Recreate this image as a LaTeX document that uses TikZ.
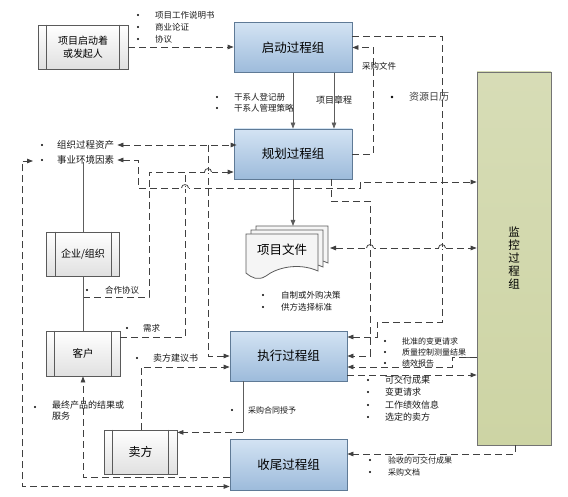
\documentclass[tikz,border=0pt]{standalone}
\usepackage{fontspec}
\setmainfont{Noto Sans CJK SC}
\usetikzlibrary{arrows.meta,calc}
\definecolor{ln}{HTML}{404040}
\definecolor{blueT}{HTML}{D3E3F3}
\definecolor{blueB}{HTML}{9DBBDB}
\definecolor{blueD}{HTML}{5F7A96}
\definecolor{greenF}{HTML}{CDD4A4}
\definecolor{grayD}{HTML}{5A5A5A}
\begin{document}
\begin{tikzpicture}[x=1pt,y=-1pt,
  >={Triangle[length=6pt,width=4.5pt]},
  dl/.style={draw=ln, line width=0.8pt, dash pattern=on 7pt off 4pt},
  sl/.style={draw=ln!85, line width=0.8pt},
  pbox/.style={draw=blueD, line width=0.8pt, top color=blueT, bottom color=blueB,
    minimum width=118pt, minimum height=50pt, inner sep=0pt, font=\fontsize{12.5}{14}\selectfont},
  gbox/.style={draw=grayD, line width=0.8pt, top color=white, bottom color=black!12,
    inner sep=0pt, align=center},
  lbl/.style={anchor=west, inner sep=0pt, font=\fontsize{8.5}{10}\selectfont, text=black!90},
  hopw/.style={fill=white},
  hop/.style={draw=ln, line width=0.8pt}
]
\useasboundingbox (0,0) rectangle (568,497);

% ---- boxes ----
\node[pbox] (start) at (293,47.5) {启动过程组};
\node[pbox] (plan) at (293,154) {规划过程组};
\node[pbox, minimum width=117pt] (exec) at (288.5,356) {执行过程组};
\node[pbox, minimum width=117pt, minimum height=51pt] (close) at (288.5,464.5) {收尾过程组};
\node[draw=black!55, line width=0.8pt, top color=greenF!80!white, bottom color=greenF,
  minimum width=74pt, minimum height=373pt, align=center,
  font=\fontsize{11.5}{13}\selectfont] (monitor) at (514,258.5) {监\\控\\过\\程\\组};

\node[gbox, minimum width=90pt, minimum height=44pt, font=\fontsize{10}{13}\selectfont] (sponsor) at (83,47) {项目启动着\\或发起人};
\node[gbox, minimum width=73pt, minimum height=44pt, font=\fontsize{10}{12}\selectfont] (ent) at (83,254) {企业/组织};
\node[gbox, minimum width=74pt, minimum height=45pt, font=\fontsize{10.5}{12}\selectfont] (cust) at (83,353.5) {客户};
\node[gbox, minimum width=73pt, minimum height=44pt, font=\fontsize{12}{14}\selectfont] (seller) at (140.5,452) {卖方};
\foreach \n in {sponsor,ent,cust,seller}{
  \draw[draw=grayD, line width=0.7pt] ([xshift=9pt]\n.north west) -- ([xshift=9pt]\n.south west);
  \draw[draw=grayD, line width=0.7pt] ([xshift=-9pt]\n.north east) -- ([xshift=-9pt]\n.south east);
}

% ---- project documents ----
\foreach \dx/\dy in {10/-8,5/-4,0/0}{
  \draw[draw=grayD, line width=0.8pt, fill=black!4]
    (246+\dx,234+\dy) -- (318+\dx,234+\dy) -- (318+\dx,271+\dy)
    .. controls (298+\dx,262+\dy) and (276+\dx,268+\dy) .. (266+\dx,276+\dy)
    .. controls (258+\dx,281+\dy) and (252+\dx,278+\dy) .. (246+\dx,273+\dy) -- cycle;
}
\node[inner sep=0pt, font=\fontsize{12.5}{14}\selectfont] (doc) at (282,250) {项目文件};
\coordinate (docT) at (293,226);
\coordinate (docR) at (330,248);

% ---- labels ----
\foreach \y/\t in {15/项目工作说明书,27/商业论证,39/协议}{
  \fill (138,\y) circle (1.2pt);
  \node[lbl] at (155,\y) {\t};
}
\foreach \y/\t in {97/干系人登记册,108/干系人管理策略}{
  \fill (217,\y) circle (1.2pt);
  \node[lbl] at (234,\y) {\t};
}
\node[lbl, font=\fontsize{9}{10}\selectfont] (tcharter) at (316,100) {项目章程};
\fill (392,97) circle (1.3pt);
\node[lbl, font=\fontsize{10}{11}\selectfont, text=black!75] (tres) at (409,97) {资源日历};

\fill (42,145) circle (1.2pt);
\node[lbl, font=\fontsize{9.5}{11}\selectfont] (torg) at (57,145) {组织过程资产};
\fill (42,160) circle (1.2pt);
\node[lbl, font=\fontsize{9.5}{11}\selectfont] (tenv) at (57,160) {事业环境因素};

\fill (87,290) circle (1.2pt);
\node[lbl] (tcoop) at (105,290) {合作协议};
\fill (127,328) circle (1.2pt);
\node[lbl] (tneed) at (143,328) {需求};
\fill (137,358) circle (1.2pt);
\node[lbl, font=\fontsize{9}{10}\selectfont] (tprop) at (153,358) {卖方建议书};
\fill (35,407) circle (1.2pt);
\node[lbl, anchor=north west, align=left, font=\fontsize{9}{11}\selectfont] (tfinal) at (52,401) {最终产品的结果或\\服务};
\fill (232,410) circle (1.2pt);
\node[lbl, font=\fontsize{8}{10}\selectfont] (taward) at (248,410) {采购合同授予};

\foreach \y/\t in {295/自制或外购决策,307/供方选择标准}{
  \fill (263,\y) circle (1.2pt);
  \node[lbl] at (281,\y) {\t};
}
\foreach \y/\t in {341/批准的变更请求,352/质量控制测量结果,363/绩效报告}{
  \fill (385,\y) circle (1.2pt);
  \node[lbl, font=\fontsize{8}{10}\selectfont] at (402,\y) {\t};
}
\foreach \y/\t in {380/可交付成果,392/变更请求,405/工作绩效信息,417/选定的卖方}{
  \fill (368,\y) circle (1.2pt);
  \node[lbl, font=\fontsize{9}{10}\selectfont] at (385,\y) {\t};
}
\foreach \y/\t in {460/验收的可交付成果,472/采购文档}{
  \fill (370,\y) circle (1.2pt);
  \node[lbl, font=\fontsize{8}{10}\selectfont] at (388,\y) {\t};
}

% ---- connectors ----
\draw[dl,->] (sponsor.east) -- (sponsor.east -| start.west);
\draw[sl,->] (start.south) -- (plan.north);
\draw[sl,->] ([xshift=41pt]start.south) -- ([xshift=41pt]plan.north);
\draw[dl,->] (plan.east) -- ++(21,0) |- (start.east);
\node[lbl, font=\fontsize{8.5}{10}\selectfont] (tproc) at (362,66) {采购文件};

\draw[dl,->] ([yshift=11.5pt]start.east) -| (442,322) -- (377,322) |- ([yshift=19pt]exec.east);
\draw[dl,->] ([xshift=38pt]plan.south) -- ++(0,22) -| (370,356) -- (exec.east);
\draw[sl] ([yshift=-98.5pt]monitor.west) -- ++(-15,0);
\draw[dl,->] ([yshift=-98.5pt]monitor.west) -- (452,357) -- (452,367) -- ([yshift=-11pt]exec.east);
\draw[dl,->] ([yshift=-19pt]exec.east) -- ([yshift=-19pt]exec.east -| monitor.west);
\draw[dl,->] ([xshift=1pt]monitor.south) |- ([yshift=10.5pt]close.east);

\draw[sl,->] (plan.south) -- (docT);
\draw[dl,<->] (docR) -- (docR -| monitor.west);

\draw[dl,<->] ([xshift=3pt]torg.east) -- ([xshift=3pt]torg.east -| plan.west);
\draw[dl,<->] ([xshift=3pt]tenv.east) -| (138,188) -- (360,188) |- ([yshift=76.5pt]monitor.west);

\coordinate (jA) at (83,297);
\draw[dl,->] (jA) -| (149,172) -- ([yshift=-18pt]plan.west);
\draw[sl] (ent.north) -- ++(0,-70);
\draw[sl] (ent.south) -- (cust.north);
\draw[dl] ([yshift=16.5pt]cust.east) -| (185,172);
\draw[dl,->] (208,145) |- (exec.west);
\draw[dl,->] ([xshift=0.5pt]seller.north) |- ([yshift=-11pt]exec.west);
\draw[sl] ([xshift=-45.5pt]exec.south) -- ++(0,51) coordinate (k1);
\draw[dl,->] (k1) -- (k1 -| seller.east);
\draw[dl,->] ([yshift=-12.5pt]close.west) -| (cust.south);
\draw[dl,<->] ([yshift=-22pt]close.west) -| (22,161) -- (33,161);

% ---- hops ----
\foreach \hx/\hy in {370/248,442/248,208/172,185/188}{
  \fill[white] (\hx-3.5,\hy-1.2) rectangle (\hx+3.5,\hy+1.2);
  \draw[hop] (\hx-3.5,\hy) .. controls (\hx-3.5,\hy-4.5) and (\hx+3.5,\hy-4.5) .. (\hx+3.5,\hy);
}
\end{tikzpicture}
\end{document}
